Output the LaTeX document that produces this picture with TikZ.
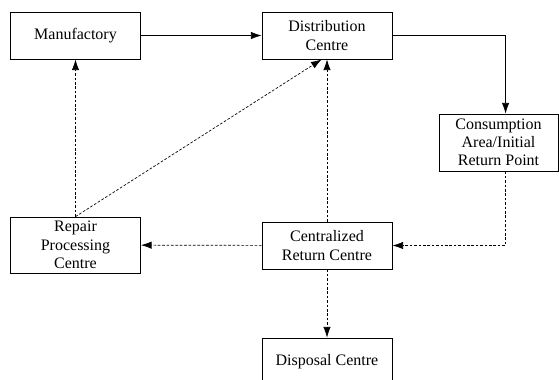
\documentclass[tikz,border=0pt]{standalone}
\usepackage{fontspec}
\setmainfont{Liberation Serif}
\usetikzlibrary{arrows.meta}

\begin{document}
\begin{tikzpicture}[x=0.75pt, y=-0.75pt, >={Latex[length=8pt,width=5.5pt]},
    every node/.style={font=\fontsize{12}{13.7}\selectfont},
    stage/.style={draw, line width=0.6pt, align=center, inner sep=1pt, minimum width=97.5pt, minimum height=35.25pt},
    flow/.style={->, line width=0.5pt},
    back/.style={->, line width=0.5pt, dash pattern=on 2pt off 1.3pt}]

    % --- 1. 描画範囲 ---
    \clip (0, 0) rectangle (559, 379);

    % --- 2. 各拠点 ---
    \node[stage] (Manu) at (75.5, 35.5) {Manufactory};
    \node[stage] (Dist) at (327, 35.5) {Distribution\\Centre};
    \node[stage, minimum width=89.25pt, minimum height=42.75pt] (Cons) at (498.5, 142.5) {Consumption\\Area/Initial\\Return Point};
    \node[stage, minimum height=42pt] (Repair) at (75.5, 245) {Repair\\Processing\\Centre};
    \node[stage] (Cent) at (327, 245.5) {Centralized\\Return Centre};
    \node[stage] (Disp) at (327, 361.5) {Disposal Centre};

    % --- 3. 順方向の流れ ---
    \draw[flow] (Manu) -- (Dist);
    \draw[flow] (Dist.east) -| ([xshift=5.3pt]Cons.north);

    % --- 4. 返品の流れ (破線) ---
    \draw[back] ([xshift=5.3pt]Cons.south) |- (Cent.east);
    \draw[back] (Cent) -- (Repair);
    \draw[back] (Cent) -- (Dist);
    \draw[back] (Cent) -- (Disp);
    \draw[back] (Repair.north) -- (Manu.south);
    \draw[back] (Repair.north) -- ([xshift=-4pt]Dist.south);

\end{tikzpicture}
\end{document}
